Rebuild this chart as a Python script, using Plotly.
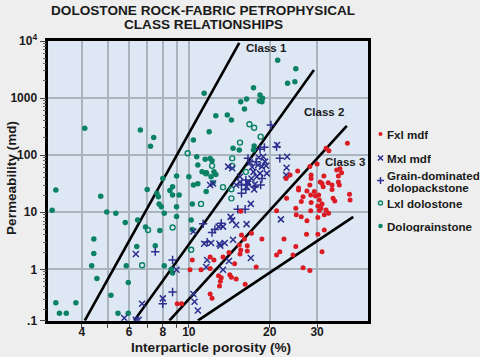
import math
import plotly.graph_objects as go

# ---------------- data (interparticle porosity %, permeability md) ----------------
fxl_porosity = [
    9.05, 9.4, 10.1, 10.3, 11.1, 12.0, 12.0, 12.4, 12.0, 12.2,
    12.9, 13.2, 13.1, 13.0, 13.4, 14.1, 14.2, 14.4, 14.8, 15.0,
    15.4, 15.5, 15.6, 15.6, 15.7, 16.1, 16.2, 16.5, 16.5, 17.1,
    17.8, 18.7, 21.2, 21.2, 21.8, 22.6, 23.0, 23.1, 23.8, 24.4,
    25.0, 25.0, 25.1, 25.4, 25.6, 25.6, 26.2, 26.2, 26.6, 26.6,
    27.4, 27.5, 27.5, 28.2, 28.2, 28.2, 28.4, 28.4, 28.5, 28.5,
    28.5, 29.3, 29.6, 30.0, 30.2, 30.2, 30.2, 30.4, 30.6, 30.6,
    30.8, 31.0, 31.3, 31.3, 31.3, 31.6, 31.8, 31.9, 31.9, 32.4,
    32.4, 33.0, 33.1, 33.2, 34.1, 34.1, 34.4, 34.9, 35.5, 36.0,
    36.0, 36.3, 36.5, 37.0, 38.9, 39.6, 39.8]
fxl_perm = [
    0.25, 0.25, 0.98, 1.46, 0.98, 1.03, 1.65, 1.46, 0.37, 0.31,
    0.77, 0.71, 0.62, 0.51, 1.65, 1.97, 0.80, 0.73, 1.25, 0.68,
    2.67, 1.85, 2.19, 10.4, 4.0, 3.4, 0.55, 2.6, 2.1, 4.3,
    1.1, 3.4, 10.6, 1.79, 2.04, 3.4, 39, 17.5, 45, 1.79,
    11.8, 2.5, 9.0, 53, 26.5, 24.6, 15.4, 8.3, 18.7, 1.07,
    4.1, 23.6, 7.1, 63, 30, 0.95, 20, 10.6, 45, 14.8,
    39, 23, 19.3, 70, 12.9, 8.1, 4.1, 20, 16.4, 10.7,
    34, 11.8, 32, 13.9, 2.04, 28, 43, 9.0, 4.9, 132,
    11.0, 33, 9.6, 119, 30, 25, 17.5, 15.7, 55, 43,
    34, 30, 58, 49, 162, 20.6, 16.4]

mxl_porosity = [
    5.75, 6.35, 6.5, 6.7, 6.35, 8.0, 9.0, 10.4, 10.5, 10.8,
    10.4, 11.4, 11.6, 11.7, 12.1, 12.9, 13.0, 13.1, 13.4, 13.4,
    13.6, 14.1, 14.3, 14.5, 14.6, 15.0, 16.4, 17.0, 17.0, 12.0,
    12.3, 14.0, 14.5, 15.0, 15.5, 15.5, 16.4, 16.6, 16.6, 17.1,
    17.2, 17.4, 17.5, 17.6, 17.9, 16.9, 18.1, 18.2, 18.4, 18.7,
    18.9, 19.2, 19.4, 19.5, 21.3, 23.2, 23.1, 23.0, 22.0]
mxl_perm = [
    0.14, 0.13, 0.13, 0.25, 1.86, 0.31, 0.98, 0.37, 0.27, 0.19,
    4.6, 2.8, 1.1, 1.46, 2.9, 5.6, 2.8, 2.6, 5.6, 0.98,
    2.9, 1.4, 8.3, 7.2, 3.3, 6.0, 6.2, 14, 1.58, 30,
    32, 63, 59, 30, 34, 42, 28, 34, 32, 39,
    62, 51, 25, 31, 42, 74, 67, 91, 48, 63,
    94, 77, 65, 48, 151, 94, 60, 45, 7.5]

grain_porosity = [
    7.5, 8.0, 8.7, 8.7, 11.3, 11.7, 12.2, 12.5, 13.2, 15.2,
    16.2, 15.7, 16.3, 15.7, 16.3, 17.6, 18.5, 18.7, 16.6, 17.8,
    18.4, 19.1, 21.2, 21.8, 20.2]
grain_perm = [
    2.04, 0.25, 0.4, 1.46, 6.3, 3.0, 4.4, 5.0, 6.4, 11.3,
    11.3, 21.5, 25, 30, 36.8, 28, 30, 39, 88, 77,
    127, 137, 140, 88, 338]

lxl_porosity = [
    6.7, 7.05, 8.7, 10.2, 11.1, 13.4, 14.4, 14.4, 11.6, 12.2,
    14.5, 14.5, 16.3, 9.9, 15.5, 18.5, 16.8, 17.5]
lxl_perm = [
    1.18, 4.9, 5.4, 2.2, 14, 27.5, 25.3, 17.5, 48, 65,
    65, 88, 51, 108, 166, 211, 348, 303]

dolo_porosity = [
    3.1, 3.2, 3.2, 3.3, 3.5, 3.8, 4.1, 4.35, 4.43, 4.43,
    4.55, 4.7, 4.95, 5.13, 5.35, 5.45, 5.8, 5.85, 5.95, 5.95,
    6.4, 6.45, 6.6, 6.9, 7.0, 7.2, 7.4, 7.5, 7.6, 7.7,
    7.75, 7.8, 7.9, 8.0, 8.1, 8.1, 8.5, 8.6, 8.7, 8.7,
    8.7, 9.0, 9.0, 9.0, 9.2, 10.0, 10.2, 10.3, 10.3, 10.4,
    10.4, 10.7, 10.8, 10.8, 11.2, 11.4, 11.5, 11.6, 11.6, 11.9,
    12.0, 12.1, 12.2, 12.3, 12.4, 12.6, 12.6, 13.9, 14.4, 14.6,
    15.4, 15.6, 16.1, 16.4, 17.4, 17.4, 17.5, 18.3, 18.4, 18.7,
    18.8, 21.4, 23.3, 24.8, 25.0]
dolo_perm = [
    10.8, 24.5, 0.26, 0.17, 0.17, 0.26, 296, 1.15, 1.9, 3.4,
    0.69, 19, 10.1, 0.35, 9.6, 0.17, 6.6, 1.15, 0.59, 0.17,
    2.5, 7.3, 276, 5.5, 25, 143, 203, 2.6, 21.5, 18.7,
    14, 4.8, 12.5, 39, 9.6, 1.15, 24, 1.0, 28, 20,
    0.86, 43, 12.5, 8.4, 20, 42, 7.3, 14, 5.0, 30,
    185, 94, 67, 31.5, 51, 1210, 85, 49, 23, 258,
    87, 42, 80, 33, 51, 46, 490, 505, 414, 132,
    123, 865, 644, 960, 1520, 123, 145, 890, 1130, 865,
    990, 4590, 1815, 1940, 3270]

# class boundary lines (endpoints: porosity %, permeability md)
boundary_porosity = [[4.1, 15.4], [6.26, 29.2], [8.46, 38.7], [10.8, 40.9]]
boundary_perm = [[0.126, 9300], [0.126, 3100], [0.126, 327], [0.126, 8.3]]
class_labels = ["Class 1", "Class 2", "Class 3"]
class_label_pos = [(19.5, 7450), (31.8, 578), (38.1, 77)]

series_names = ["Fxl mdf", "Mxl mdf", "Grain-dominated dolopackstone",
                "Lxl dolostone", "Dolograinstone"]

x_tickvals = [4, 6, 8, 10, 20, 30]
x_ticktext = ["4", "6", "8", "10", "20", "30"]
x_minor_vals = [5, 7, 9]
y_tickvals = [10 ** -0.9, 1, 10, 100, 1000, 10000]
y_ticktext = [".1", "1", "10", "100", "1000", "10<sup>4</sup>"]

# ---------------- styling ----------------
W, H = 480, 357
FONT = "Liberation Sans, Arial, sans-serif"
RED = "#dc1c24"
NAVY = "#2d2f8e"
GREEN = "#0b8264"
GRID = "#aab4be"
PLOT_BG = "#dde8f4"
PAPER = "#eeeeee"

styles = [
    dict(symbol="circle", size=5, color=RED),
    dict(symbol="x-thin", size=6, color=NAVY, line=dict(width=1.5, color=NAVY)),
    dict(symbol="cross-thin", size=6, color=NAVY, line=dict(width=1.5, color=NAVY)),
    dict(symbol="circle-open", size=5, color=GREEN, line=dict(width=1.4, color=GREEN)),
    dict(symbol="circle", size=5.5, color=GREEN),
]
series = [(fxl_porosity, fxl_perm), (mxl_porosity, mxl_perm),
          (grain_porosity, grain_perm), (lxl_porosity, lxl_perm),
          (dolo_porosity, dolo_perm)]

fig = go.Figure()

for (xs, ys) in zip(boundary_porosity, boundary_perm):
    fig.add_trace(go.Scatter(x=xs, y=ys, mode="lines",
                             line=dict(color="black", width=2.6),
                             showlegend=False, hoverinfo="skip"))

# draw order: green first so reds / blues sit on top
for idx in [4, 3, 2, 1, 0]:
    xs, ys = series[idx]
    fig.add_trace(go.Scatter(x=xs, y=ys, mode="markers", name=series_names[idx],
                             marker=styles[idx], showlegend=False))

# ---------------- manual legend on a hidden pixel-space axis ----------------
legend_rows = [134, 158, 180.5, 203, 226]
legend_x = 380.5
for idx, yy in enumerate(legend_rows):
    st = dict(styles[idx])
    st["size"] = max(st["size"] - 1, 4)
    fig.add_trace(go.Scatter(x=[legend_x], y=[yy], mode="markers", marker=st,
                             xaxis="x2", yaxis="y2", showlegend=False,
                             hoverinfo="skip"))

annotations = []
leg_text_rows = [(134, "Fxl mdf"), (158, "Mxl mdf"), (174.8, "Grain-dominated"),
                 (187, "dolopackstone"), (203, "Lxl dolostone"),
                 (226, "Dolograinstone")]
for yy, txt in leg_text_rows:
    annotations.append(dict(x=385, y=yy, xref="x2", yref="y2", text=f"<b>{txt}</b>",
                            showarrow=False, xanchor="left", yanchor="middle",
                            height=12, valign="middle",
                            font=dict(family=FONT, size=11.6, color="#1a1a1a")))

# title (two lines)
annotations.append(dict(x=203, y=10, xref="x2", yref="y2",
                        text="<b>DOLOSTONE ROCK-FABRIC PETROPHYSICAL</b>",
                        showarrow=False, xanchor="center", yanchor="middle",
                        height=14,
                        font=dict(family=FONT, size=13.6, color="#1a1a1a")))
annotations.append(dict(x=203, y=24, xref="x2", yref="y2",
                        text="<b>CLASS RELATIONSHIPS</b>",
                        showarrow=False, xanchor="center", yanchor="middle",
                        height=14,
                        font=dict(family=FONT, size=13.6, color="#1a1a1a")))
# axis titles
annotations.append(dict(x=211, y=347.5, xref="x2", yref="y2",
                        text="<b>Interparticle porosity (%)</b>",
                        showarrow=False, xanchor="center", yanchor="middle",
                        font=dict(family=FONT, size=13.6, color="#1a1a1a")))
annotations.append(dict(x=11, y=178, xref="x2", yref="y2",
                        text="<b>Permeability (md)</b>", textangle=-90,
                        showarrow=False, xanchor="center", yanchor="middle",
                        font=dict(family=FONT, size=13.6, color="#1a1a1a")))
# class labels
for lab, (px_, py_) in zip(class_labels, class_label_pos):
    annotations.append(dict(x=math.log10(px_), y=math.log10(py_), xref="x", yref="y",
                            text=f"<b>{lab}</b>", showarrow=False,
                            xanchor="center", yanchor="middle",
                            font=dict(family=FONT, size=11.5, color="#1a1a1a")))

minor_y = [k * 10 ** d for d in range(-1, 4) for k in range(2, 10) if k * 10 ** d > 10 ** -0.9]

fig.update_layout(
    width=W, height=H, autosize=False,
    margin=dict(l=0, r=0, t=0, b=0, pad=0, autoexpand=False),
    paper_bgcolor=PAPER, plot_bgcolor="rgba(0,0,0,0)",
    showlegend=False,
    xaxis=dict(type="log", range=[math.log10(3.0), math.log10(46.4)],
               domain=[48.3 / W, 368 / W], anchor="y",
               tickvals=x_tickvals, ticktext=x_ticktext,
               showgrid=True, gridcolor=GRID, gridwidth=1.5,
               showline=True, linecolor="black", linewidth=2.6, mirror=True,
               ticks="outside", ticklen=4, tickwidth=1, tickcolor="#444",
               ticklabelstandoff=-6,
               minor=dict(tickvals=x_minor_vals, ticks="outside", ticklen=4,
                          tickwidth=1, tickcolor="#444", showgrid=True,
                          gridcolor=GRID, gridwidth=1.5),
               tickfont=dict(family=FONT, size=12, color="#1a1a1a", weight="bold"),
               zeroline=False),
    yaxis=dict(type="log", range=[-0.9, 4],
               domain=[1 - 320.7 / H, 1 - 41 / H], anchor="x",
               tickvals=y_tickvals, ticktext=y_ticktext,
               showgrid=True, gridcolor=GRID, gridwidth=1.5,
               showline=True, linecolor="black", linewidth=2.6, mirror=True,
               ticks="outside", ticklen=6, tickwidth=1, tickcolor="#444",
               minor=dict(tickvals=minor_y, ticks="outside", ticklen=3,
                          tickwidth=1, tickcolor="#666", showgrid=False),
               tickfont=dict(family=FONT, size=12, color="#1a1a1a", weight="bold"),
               zeroline=False),
    xaxis2=dict(domain=[0, 1], range=[0, W], anchor="y2", visible=False,
                fixedrange=True),
    yaxis2=dict(domain=[0, 1], range=[H, 0], anchor="x2", visible=False,
                fixedrange=True),
    annotations=annotations,
    shapes=[dict(type="rect", xref="x domain", yref="y domain", x0=0, x1=1,
                 y0=0, y1=1, fillcolor=PLOT_BG, line=dict(width=0),
                 layer="below")],
)

fig.write_html(
    "out.html",
    config={"displayModeBar": False, "responsive": False},
    post_script=("document.body.style.margin='0px';"
                 "document.body.style.overflow='hidden';"
                 "document.documentElement.style.overflow='hidden';"),
)
